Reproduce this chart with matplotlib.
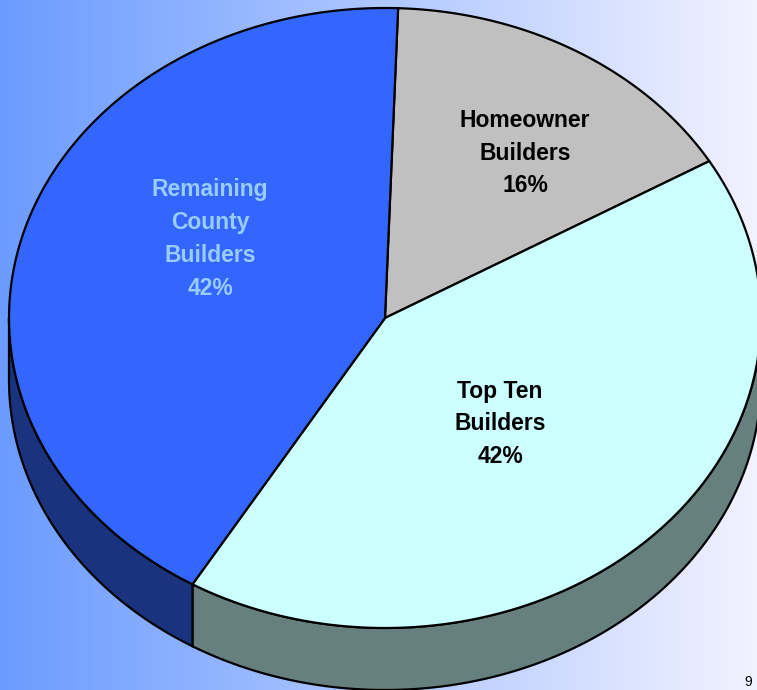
import numpy as np
import matplotlib.pyplot as plt
from matplotlib.patches import Polygon

# slice data, in drawing order (clockwise from the top)
labels = ["Homeowner\nBuilders\n16%", "Top Ten\nBuilders\n42%", "Remaining\nCounty\nBuilders\n42%"]
values = [16, 42, 42]
top_colors = ["#C0C0C0", "#CCFFFF", "#3366FF"]
side_colors = ["#606060", "#668080", "#1A337F"]
label_colors = ["black", "black", "#99CCFF"]
label_pos = [(525, 153), (500, 424), (210, 239)]

# pie geometry (pixels of the 757x690 image)
cx, cy = 385, 318
a, b = 376, 310
depth = 62
start = 88.0


def rim(theta_deg, dy=0.0):
    t = np.radians(theta_deg)
    return cx + a * np.cos(t), cy - b * np.sin(t) + dy


fig = plt.figure(figsize=(7.57, 6.90), dpi=100)
ax = fig.add_axes([0, 0, 1, 1])
ax.set_xlim(0, 757)
ax.set_ylim(690, 0)
ax.axis("off")

# horizontal background gradient
left = np.array([0.42, 0.61, 1.0])
right = np.array([0.95, 0.95, 1.0])
t = np.linspace(0, 1, 256)[None, :, None]
grad = left + (right - left) * t
ax.imshow(grad, extent=[0, 757, 690, 0], aspect="auto", zorder=0)

# slice angle ranges (counter-clockwise lo -> hi)
fracs = np.array(values) / sum(values)
ranges = []
ang = start
for f in fracs:
    hi = ang
    lo = ang - 360 * f
    ranges.append((lo, hi))
    ang = lo

# side walls: only the front half (180..360) is visible
for (lo, hi), col in zip(ranges, side_colors):
    lo_n = lo % 360
    hi_n = lo_n + (hi - lo)
    for win_lo, win_hi in [(180, 360), (540, 720)]:
        s = max(lo_n, win_lo)
        e = min(hi_n, win_hi)
        if e <= s:
            continue
        th = np.linspace(s, e, 120)
        xt, yt = rim(th)
        xb, yb = rim(th[::-1], depth)
        pts = np.column_stack([np.r_[xt, xb], np.r_[yt, yb]])
        ax.add_patch(Polygon(pts, closed=True, facecolor=col,
                             edgecolor="black", linewidth=1.6, zorder=2))

# top faces
for (lo, hi), col in zip(ranges, top_colors):
    th = np.linspace(lo, hi, 200)
    x, y = rim(th)
    pts = np.column_stack([np.r_[cx, x], np.r_[cy, y]])
    ax.add_patch(Polygon(pts, closed=True, facecolor=col,
                         edgecolor="black", linewidth=1.6, zorder=3))

# labels
for txt, (lx, ly), c in zip(labels, label_pos, label_colors):
    ax.text(lx, ly, txt, ha="center", va="center", color=c,
            fontsize=16.5, fontweight="bold", family="Liberation Sans",
            linespacing=1.55, zorder=4)

# page number in the corner
ax.text(744, 689, "9", ha="left", va="bottom", fontsize=10,
        family="Liberation Sans", color="black", zorder=4)

fig.savefig("out.png", dpi=100)
